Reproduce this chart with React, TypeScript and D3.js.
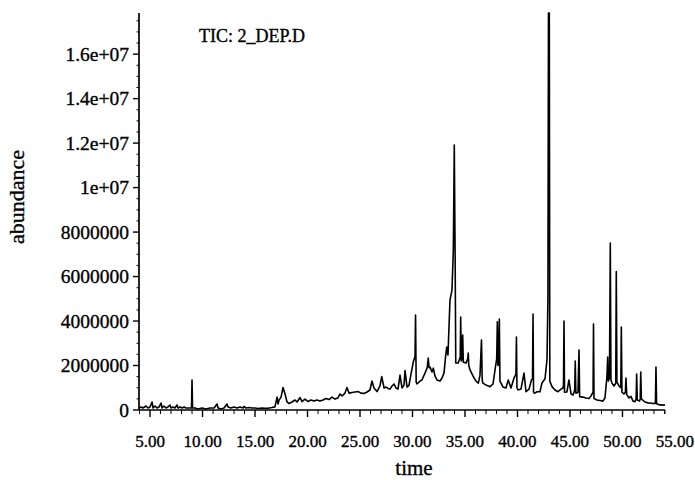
import React, { useEffect } from 'react';
import * as d3 from 'd3';

// TIC trace: [retention time (min), abundance]
const traceEarly: [number, number][] = [
  [3.95, 90000], [4.14, 135000], [4.33, 90000], [4.62, 180000], [4.81, 90000], [5.0, 135000],
  [5.19, 360000], [5.29, 90000], [5.48, 180000], [5.67, 90000], [5.86, 135000], [6.05, 315000],
  [6.14, 90000], [6.33, 180000], [6.52, 90000], [6.71, 135000], [6.9, 225000], [7.0, 90000],
  [7.19, 135000], [7.38, 90000], [7.57, 225000], [7.67, 90000], [7.86, 135000], [8.05, 90000],
  [8.24, 135000], [8.43, 90000], [8.62, 90000], [8.95, 90000], [9.0, 1350000], [9.05, 90000],
  [9.29, 90000], [9.57, 45000], [9.95, 90000], [10.33, 45000], [10.71, 90000], [11.1, 90000],
  [11.38, 270000], [11.48, 90000], [11.76, 45000], [12.05, 90000], [12.33, 270000], [12.43, 135000],
  [12.71, 90000], [13.0, 135000], [13.29, 90000], [13.57, 135000], [13.86, 90000], [13.95, 160000],
  [14.14, 90000], [14.43, 110000], [14.71, 90000], [15.0, 90000], [15.29, 70000], [15.67, 90000],
  [15.95, 75000], [16.24, 75000], [16.62, 110000], [16.9, 140000], [17.1, 580000], [17.19, 270000],
  [17.29, 450000], [17.48, 580000], [17.67, 1010000], [17.86, 720000], [18.05, 360000], [18.24, 290000],
  [18.52, 360000], [18.81, 450000], [19.0, 360000], [19.29, 560000], [19.48, 380000], [19.76, 490000],
  [20.05, 380000], [20.33, 450000], [20.62, 400000], [20.9, 450000], [21.19, 400000], [21.48, 450000],
  [21.76, 520000], [22.05, 470000], [22.33, 580000], [22.62, 490000], [22.9, 540000], [23.1, 720000],
  [23.29, 630000], [23.57, 760000], [23.76, 1010000], [23.95, 760000], [24.24, 790000], [24.52, 810000],
  [24.81, 830000], [25.1, 760000], [25.38, 740000], [25.67, 810000], [25.95, 900000], [26.14, 1300000],
  [26.33, 990000], [26.62, 830000], [26.9, 1080000], [27.07, 1500000], [27.29, 990000], [27.48, 1030000],
  [27.67, 970000], [27.86, 940000], [28.05, 1080000], [28.24, 1170000], [28.43, 990000], [28.62, 940000],
  [28.81, 1570000], [29.0, 990000], [29.19, 1120000], [29.29, 1770000], [29.48, 1030000], [29.67, 1120000],
  [29.86, 1620000],
];

const traceMid: [number, number][] = [
  [30.08, 2170000], [30.24, 2400000], [30.29, 4270000], [30.35, 1250000], [30.43, 1170000], [30.71, 1300000],
  [30.9, 1350000], [31.19, 1660000], [31.4, 1900000], [31.5, 2340000], [31.58, 1900000], [31.67, 1930000],
  [31.86, 1710000], [31.98, 1880000], [32.14, 1530000], [32.33, 1350000], [32.62, 1300000], [32.81, 1440000],
  [33.0, 1660000], [33.15, 2400000], [33.26, 2830000], [33.38, 2470000], [33.57, 4940000], [33.76, 5390000],
  [33.89, 7190000], [33.98, 11910000], [34.06, 7000000], [34.12, 2110000], [34.36, 2110000], [34.55, 2400000],
  [34.59, 4180000], [34.64, 2200000], [34.69, 2250000], [34.78, 3370000], [34.84, 2150000], [34.9, 2150000],
  [35.1, 2110000], [35.26, 2300000], [35.31, 2560000], [35.36, 2000000], [35.48, 1800000], [35.76, 1530000],
  [36.05, 1300000], [36.27, 1210000], [36.43, 1570000], [36.57, 3150000], [36.64, 1350000], [36.71, 1210000],
  [37.0, 1120000], [37.38, 1050000], [37.67, 1170000], [37.86, 1800000], [38.02, 2300000], [38.08, 3970000],
  [38.14, 2000000], [38.2, 2100000], [38.27, 4090000], [38.33, 1300000], [38.43, 1210000], [38.62, 1030000],
  [38.9, 990000], [39.12, 1350000], [39.38, 990000], [39.67, 1440000], [39.85, 1600000], [39.9, 3280000],
  [39.95, 1000000], [40.05, 900000], [40.33, 940000], [40.62, 1660000], [40.81, 820000], [41.1, 940000],
  [41.33, 1350000], [41.43, 1400000], [41.48, 4310000], [41.53, 800000], [41.62, 750000], [41.86, 820000],
  [42.14, 820000], [42.33, 1210000], [42.62, 1400000], [42.81, 2250000], [42.9, 5000000], [42.95, 17850000],
  [43.03, 17850000], [43.08, 1300000], [43.29, 1050000], [43.57, 900000], [43.86, 820000],
];

const traceLate: [number, number][] = [
  [44.14, 940000], [44.33, 990000], [44.38, 1100000], [44.43, 4000000], [44.48, 800000], [44.71, 810000],
  [44.9, 1350000], [45.1, 720000], [45.29, 670000], [45.45, 900000], [45.5, 2200000], [45.56, 750000],
  [45.76, 800000], [45.86, 2700000], [45.92, 600000], [46.24, 580000], [46.52, 540000], [46.81, 520000],
  [47.0, 630000], [47.2, 800000], [47.24, 3870000], [47.29, 520000], [47.57, 450000], [47.86, 430000],
  [48.14, 400000], [48.33, 540000], [48.52, 1500000], [48.59, 2380000], [48.65, 1300000], [48.76, 1440000],
  [48.84, 7510000], [48.9, 1350000], [49.0, 1210000], [49.19, 1080000], [49.36, 1200000], [49.41, 6220000],
  [49.47, 1250000], [49.67, 1080000], [49.84, 1000000], [49.89, 3730000], [49.95, 800000], [50.14, 720000],
  [50.28, 800000], [50.33, 1440000], [50.4, 700000], [50.62, 540000], [50.81, 610000], [51.0, 400000],
  [51.19, 370000], [51.3, 500000], [51.35, 1620000], [51.41, 450000], [51.62, 400000], [51.69, 500000],
  [51.74, 1710000], [51.8, 500000], [52.14, 360000], [52.43, 320000], [52.81, 300000], [53.1, 290000],
  [53.14, 400000], [53.19, 1930000], [53.25, 280000], [53.57, 230000], [54.05, 220000],
];

const xTickValues = [5, 10, 15, 20, 25, 30, 35, 40, 45, 50, 55];
const xTickLabels = ['5.00', '10.00', '15.00', '20.00', '25.00', '30.00', '35.00', '40.00', '45.00', '50.00', '55.00'];
const yTickValues = [0, 2000000, 4000000, 6000000, 8000000, 10000000, 12000000, 14000000, 16000000];
const yTickLabels = ['0', '2000000', '4000000', '6000000', '8000000', '1e+07', '1.2e+07', '1.4e+07', '1.6e+07'];

const width = 695;
const height = 480;
const font = '"Liberation Serif", "Times New Roman", serif';

// scanned look: text a bit heavier than plain regular
const textStyle = { fontFamily: font, fill: '#000', stroke: '#000', strokeWidth: 0.35 };

export default function App() {
  useEffect(() => {
    document.body.style.margin = '0';
  }, []);

  const trace = [...traceEarly, ...traceMid, ...traceLate];
  const yMax = 17850000;

  const x = d3.scaleLinear().domain([3.95, 54.05]).range([139, 665]);
  const y = d3.scaleLinear().domain([0, yMax]).range([410, 13]);

  const line = d3.line<[number, number]>()
    .x(d => x(d[0]))
    .y(d => y(Math.min(d[1], yMax)));

  const [x0, x1] = x.range();
  const [yBottom, yTop] = y.range();

  // minor ticks: every minute on x, every 500000 on y
  const xMinor = d3.range(4, 55).filter(t => t % 5 !== 0);
  const yMinor = d3.range(0, yMax, 500000).filter(v => v % 2000000 !== 0);

  return (
    <svg width={width} height={height} style={{ display: 'block', background: '#fff' }}>
      {/* trace */}
      <path d={line(trace) || ''} fill="none" stroke="#000" strokeWidth={1.6} strokeLinejoin="round" />

      {/* y axis */}
      <line x1={x0} x2={x0} y1={yTop} y2={yBottom} stroke="#000" strokeWidth={1.7} />
      {yMinor.map(v => (
        <line key={'ym' + v} x1={x0 - 2.5} x2={x0} y1={y(v)} y2={y(v)} stroke="#000" strokeWidth={1} />
      ))}
      {yTickValues.map((v, i) => (
        <g key={'y' + v}>
          <line x1={x0 - 6} x2={x0} y1={y(v)} y2={y(v)} stroke="#000" strokeWidth={1.4} />
          <text x={x0 - 10} y={y(v)} dy="0.34em" textAnchor="end" fontSize={19.5} style={textStyle}>
            {yTickLabels[i]}
          </text>
        </g>
      ))}

      {/* x axis */}
      <line x1={x0} x2={x1} y1={yBottom} y2={yBottom} stroke="#000" strokeWidth={1.7} />
      {xMinor.map(t => (
        <line key={'xm' + t} x1={x(t)} x2={x(t)} y1={yBottom} y2={yBottom + 4} stroke="#000" strokeWidth={1} />
      ))}
      <line x1={x1} x2={x1} y1={yBottom} y2={yBottom + 4} stroke="#000" strokeWidth={1} />
      {xTickValues.map((t, i) => (
        <g key={'x' + t}>
          {x(t) <= x1 && (
            <line x1={x(t)} x2={x(t)} y1={yBottom} y2={yBottom + 7} stroke="#000" strokeWidth={1.4} />
          )}
          <text x={x(t)} y={447} textAnchor="middle" fontSize={17} style={textStyle}>
            {xTickLabels[i]}
          </text>
        </g>
      ))}

      {/* axis titles */}
      <text x={414} y={475} textAnchor="middle" fontSize={21} style={textStyle}>time</text>
      <text transform="translate(24,197) rotate(-90)" textAnchor="middle" fontSize={22} style={textStyle}>
        abundance
      </text>
      <text x={199} y={42} fontSize={18} style={textStyle}>TIC: 2_DEP.D</text>
    </svg>
  );
}
